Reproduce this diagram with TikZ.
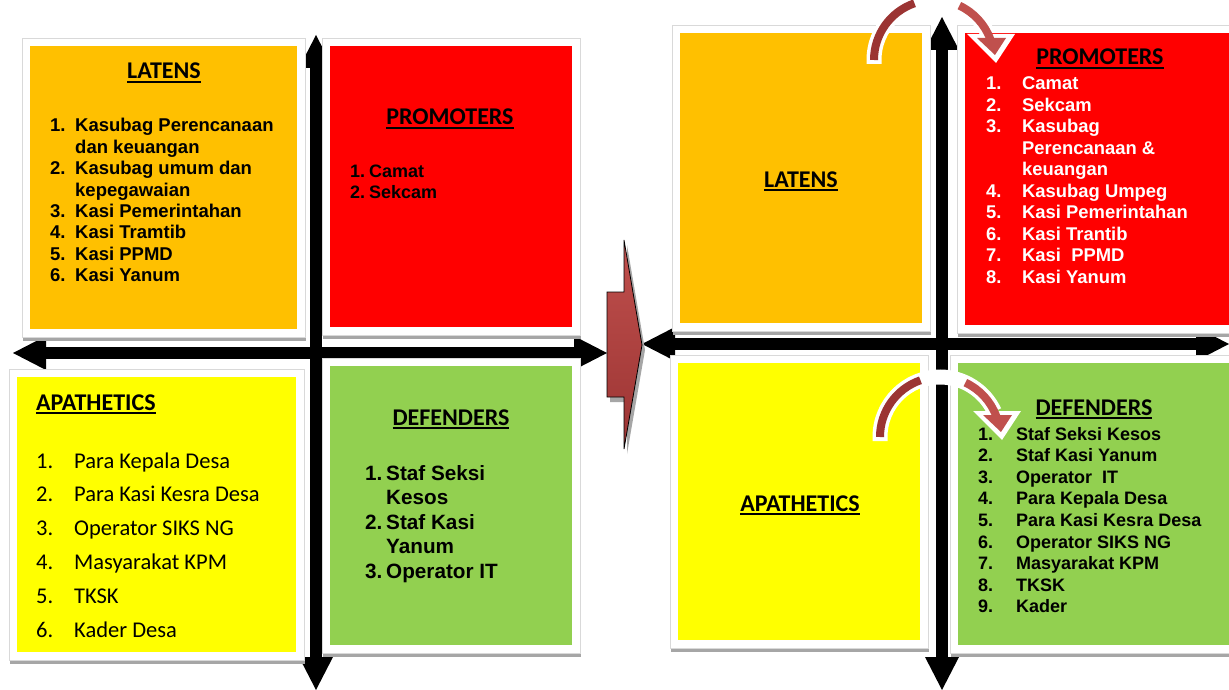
\documentclass[tikz,border=0pt]{standalone}
\usepackage{fontspec}
\setmainfont{Liberation Sans}
\newfontfamily\calfont{Carlito}
\newfontfamily\arifont{Liberation Sans}
\usepackage{array}
\usetikzlibrary{arrows.meta,fit}
\definecolor{cOrange}{HTML}{FFC000}
\definecolor{cRed}{HTML}{FF0000}
\definecolor{cYellow}{HTML}{FFFF00}
\definecolor{cGreen}{HTML}{92D050}
\definecolor{cArrow}{HTML}{C0504D}
\definecolor{cArrowDark}{HTML}{9B3433}
\definecolor{cShadow}{HTML}{A6A6A6}
\definecolor{cFrame}{HTML}{D9D9D9}
\newcommand\myul[1]{\setbox0=\hbox{#1}\rlap{\rule[-4pt]{\wd0}{1.9pt}}\box0}
% name, colour, x1, y1, x2, y2 (coloured area, pixel coords)
\newcommand\qbox[6]{%
  \fill[cShadow] (#3-7,#4-4) rectangle (#5+9,#6+12);
  \filldraw[fill=white,draw=cFrame,line width=0.8pt] (#3-8,#4-8) rectangle (#5+8,#6+8);
  \node[fill=#2,inner sep=0pt,outer sep=0pt,fit={(#3,#4)(#5,#6)}] (#1) {};
}
\newcommand\curvarrow[1]{%
  \draw[white,line width=15pt] ([shift={(-60,4)}]#1) -- ([shift={(-60,0)}]#1) arc[start angle=180,end angle=335,radius=60];
  \fill[white] ([shift={(33,-26)}]#1) -- ([shift={(81,-26)}]#1) -- ([shift={(62,3)}]#1) -- cycle;
  \draw[cArrowDark,line width=8pt] ([shift={(-60,0)}]#1) arc[start angle=180,end angle=251,radius=60];
  \draw[cArrow,line width=8pt] ([shift={(295:60)}]#1) arc[start angle=295,end angle=340,radius=60];
  \fill[cArrow] ([shift={(43,-22)}]#1) -- ([shift={(72,-22)}]#1) -- ([shift={(61,-5)}]#1) -- cycle;
}
\begin{document}
\begin{tikzpicture}[x=1pt,y=-1pt,
  axis/.style={draw=black,line width=12pt,
    {Triangle[length=33pt,width=34pt,line width=0pt]}-{Triangle[length=33pt,width=34pt,line width=0pt]}},
  title/.style={inner sep=0pt,anchor=base,font=\calfont\bfseries\fontsize{24}{28}\selectfont},
  listnode/.style={inner sep=0pt,anchor=base west}]
\useasboundingbox (0,0) rectangle (1229,690);
\clip (0,0) rectangle (1229,690);
\fill[white] (0,0) rectangle (1229,690);

% ---------- axes ----------
\coordinate (lT) at (316,35);  \coordinate (lB) at (316,690);
\coordinate (lL) at (13,353);  \coordinate (lR) at (607,353);
\coordinate (rT) at (942,17);  \coordinate (rB) at (942,690);
\coordinate (rL) at (642,344); \coordinate (rR) at (1229,344);
\draw[axis] (lB) -- (lT);
\draw[axis] (lL) -- (lR);
\draw[axis] (rB) -- (rT);
\draw[axis] (rL) -- (rR);

% ---------- central arrow ----------
\fill[cShadow,shift={(3,5)}] (607,292) -- (624,292) -- (624,240) -- (642,345) -- (624,449) -- (624,397) -- (607,397) -- cycle;
\path[draw=black,line width=0.8pt,top color=cArrow,bottom color=cArrowDark]
  (607,292) -- (624,292) -- (624,240) -- (642,345) -- (624,449) -- (624,397) -- (607,397) -- cycle;

% ---------- left quadrants ----------
\qbox{lLat}{cOrange}{30}{46}{297}{329}
\qbox{lPro}{cRed}{330}{46}{572}{327}
\qbox{lApa}{cYellow}{17}{377}{296}{652}
\qbox{lDef}{cGreen}{330}{366}{572}{645}

\node[title] (lLatT) at (164,79) {\myul{LATENS}};
\node[listnode,font=\arifont\bfseries\fontsize{18.5}{21.4}\selectfont] (lLatL) at (50,132)
{\begin{tabular}[t]{@{}p{25pt}@{}l@{}}
1. & Kasubag Perencanaan\\
   & dan keuangan\\
2. & Kasubag umum dan\\
   & kepegawaian\\
3. & Kasi Pemerintahan\\
4. & Kasi Tramtib\\
5. & Kasi PPMD\\
6. & Kasi Yanum
\end{tabular}};

\node[title] (lProT) at (450,125) {\myul{PROMOTERS}};
\node[listnode,font=\arifont\bfseries\fontsize{18}{21.5}\selectfont] (lProL) at (350,177)
{\begin{tabular}[t]{@{}p{19pt}@{}l@{}}
1. & Camat\\
2. & Sekcam
\end{tabular}};

\node[title,anchor=base west] (lApaT) at (36,410) {\myul{APATHETICS}};
\node[listnode,font=\calfont\fontsize{22.5}{33.8}\selectfont] (lApaL) at (36,468)
{\begin{tabular}[t]{@{}p{38pt}@{}l@{}}
1. & Para Kepala Desa\\
2. & Para Kasi Kesra Desa\\
3. & Operator SIKS NG\\
4. & Masyarakat KPM\\
5. & TKSK\\
6. & Kader Desa
\end{tabular}};

\node[title] (lDefT) at (451,425) {\myul{DEFENDERS}};
\node[listnode,font=\arifont\bfseries\fontsize{20.7}{24.5}\selectfont] (lDefL) at (365,480)
{\begin{tabular}[t]{@{}p{21pt}@{}l@{}}
1. & Staf Seksi\\
   & Kesos\\
2. & Staf Kasi\\
   & Yanum\\
3. & Operator IT
\end{tabular}};

% ---------- right quadrants ----------
\qbox{rLat}{cOrange}{680}{33}{922}{323}
\qbox{rPro}{cRed}{965}{33}{1240}{325}
\qbox{rApa}{cYellow}{678}{363}{920}{640}
\qbox{rDef}{cGreen}{958}{363}{1240}{645}

\node[title] (rLatT) at (801,187) {\myul{LATENS}};
\node[title] (rApaT) at (800,511) {\myul{APATHETICS}};

\node[title] (rProT) at (1100,65) {\myul{PROMOTERS}};
\node[listnode,text=white,font=\arifont\bfseries\fontsize{18.4}{21.45}\selectfont] (rProL) at (986,90)
{\begin{tabular}[t]{@{}p{36pt}@{}l@{}}
1. & Camat\\
2. & Sekcam\\
3. & Kasubag\\
   & Perencanaan \&\\
   & keuangan\\
4. & Kasubag Umpeg\\
5. & Kasi Pemerintahan\\
6. & Kasi Trantib\\
7. & Kasi\ \ PPMD\\
8. & Kasi Yanum
\end{tabular}};

\node[title] (rDefT) at (1094,415) {\myul{DEFENDERS}};
\node[listnode,font=\arifont\bfseries\fontsize{18}{21.6}\selectfont] (rDefL) at (978,440)
{\begin{tabular}[t]{@{}p{38pt}@{}l@{}}
1. & Staf Seksi Kesos\\
2. & Staf Kasi Yanum\\
3. & Operator\ \ IT\\
4. & Para Kepala Desa\\
5. & Para Kasi Kesra Desa\\
6. & Operator SIKS NG\\
7. & Masyarakat KPM\\
8. & TKSK\\
9. & Kader
\end{tabular}};

% ---------- curved arrows ----------
\coordinate (c1) at (934,60);
\coordinate (c2) at (940,437);
\curvarrow{c1}
\curvarrow{c2}
\end{tikzpicture}
\end{document}
